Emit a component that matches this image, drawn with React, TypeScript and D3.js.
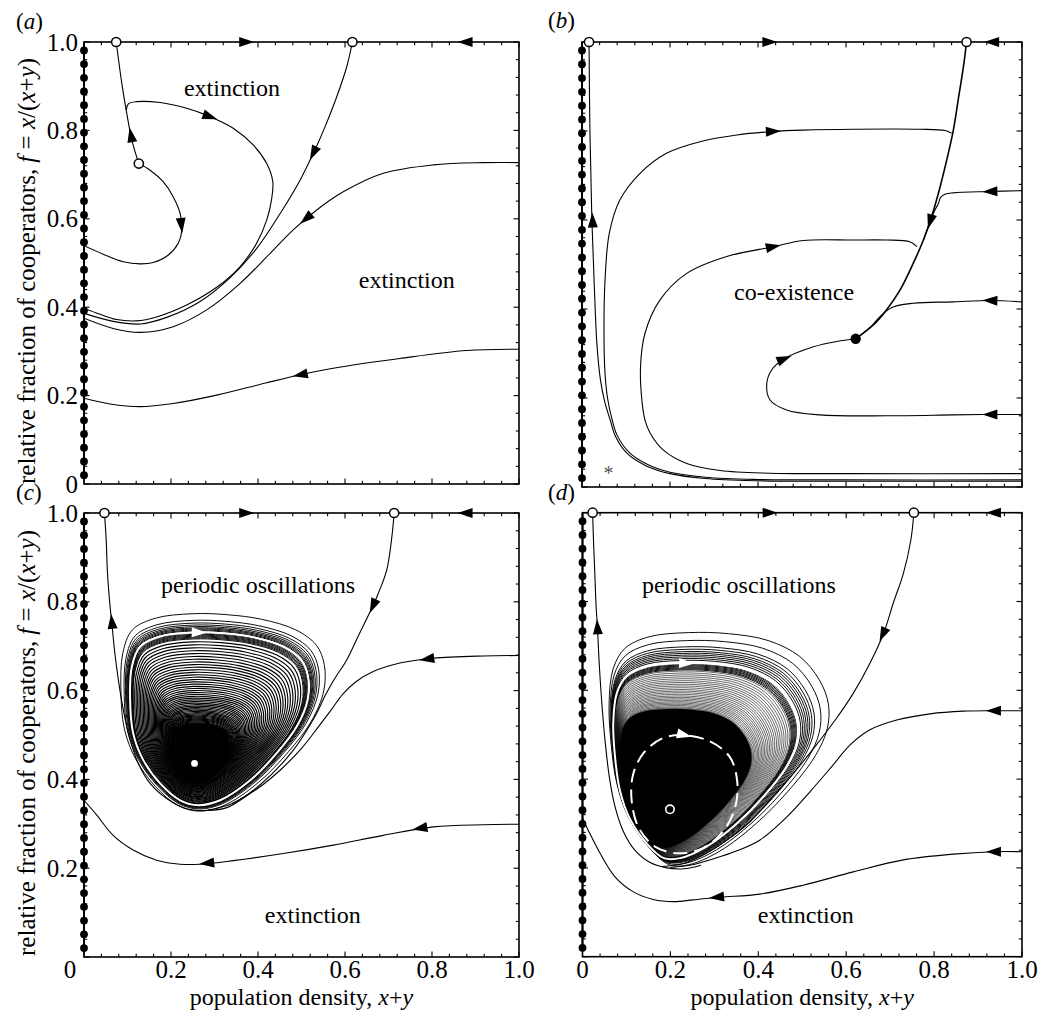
import React from "react";
import * as d3 from "d3";

type P = [number, number];

// ---------------- axes ----------------
const MAJOR_TICKS = [0, 0.2, 0.4, 0.6, 0.8, 1.0];
const MAJOR_LABELS = ["0", "0.2", "0.4", "0.6", "0.8", "1.0"];
const MINOR_TICKS = [0.04, 0.08, 0.12, 0.16, 0.24, 0.28, 0.32, 0.36, 0.44, 0.48, 0.52, 0.56, 0.64, 0.68, 0.72, 0.76, 0.84, 0.88, 0.92, 0.96];

// line of equilibria at x+y = 0
const EQUILIBRIA_F = [0.020, 0.051, 0.082, 0.113, 0.144, 0.175, 0.206, 0.237, 0.268, 0.299, 0.330, 0.361, 0.392, 0.423, 0.454, 0.485, 0.516, 0.547, 0.578, 0.609, 0.640, 0.671, 0.702, 0.733, 0.764, 0.795, 0.826, 0.857, 0.888, 0.919, 0.950, 0.981];

const TOP_EDGE: P[] = [[0, 1], [1, 1]];

// ---------------- panel (a) ----------------
const A_SADDLES: P[] = [[0.074, 1.0], [0.617, 1.0], [0.126, 0.725]];
const A_SEP_UP: P[] = [[0.074, 1.0], [0.087, 0.906], [0.097, 0.846], [0.110, 0.778], [0.126, 0.725]];
const A_LOOP: P[] = [[0.097, 0.846], [0.102, 0.860], [0.121, 0.865], [0.175, 0.863], [0.236, 0.850], [0.290, 0.831], [0.343, 0.805], [0.389, 0.767], [0.420, 0.725], [0.434, 0.684], [0.431, 0.643], [0.420, 0.597], [0.397, 0.545], [0.359, 0.492], [0.305, 0.445], [0.236, 0.405], [0.167, 0.378], [0.121, 0.369], [0.075, 0.372], [0.037, 0.384], [0.0, 0.397]];
const A_SEP_RIGHT: P[] = [[0.617, 1.0], [0.604, 0.944], [0.581, 0.876], [0.554, 0.808], [0.531, 0.756], [0.497, 0.688], [0.451, 0.612], [0.397, 0.533], [0.336, 0.467], [0.267, 0.413], [0.190, 0.377], [0.129, 0.362], [0.067, 0.368], [0.0, 0.386]];
const A_RIGHT: P[] = [[1.0, 0.727], [0.918, 0.727], [0.803, 0.722], [0.688, 0.703], [0.596, 0.661], [0.535, 0.620], [0.481, 0.575], [0.428, 0.522], [0.359, 0.454], [0.282, 0.394], [0.205, 0.356], [0.129, 0.343], [0.067, 0.352], [0.0, 0.375]];
const A_MID_DOWN: P[] = [[0.126, 0.725], [0.152, 0.710], [0.182, 0.684], [0.205, 0.650], [0.221, 0.612], [0.225, 0.575], [0.217, 0.545], [0.194, 0.518], [0.159, 0.501], [0.129, 0.498], [0.090, 0.503], [0.044, 0.520], [0.0, 0.539]];
const A_BOTTOM: P[] = [[1.0, 0.305], [0.880, 0.302], [0.726, 0.284], [0.573, 0.262], [0.497, 0.247], [0.420, 0.229], [0.305, 0.201], [0.205, 0.182], [0.129, 0.175], [0.060, 0.181], [0.0, 0.194]];

// ---------------- panel (b) ----------------
const B_SADDLES: P[] = [[0.016, 1.0], [0.874, 1.0]];
const B_NODE: P = [0.622, 0.333];
const B_SEP: P[] = [[0.874, 1.0], [0.867, 0.945], [0.855, 0.870], [0.844, 0.802], [0.829, 0.735], [0.810, 0.660], [0.791, 0.596], [0.776, 0.555], [0.753, 0.503], [0.723, 0.443], [0.692, 0.398], [0.662, 0.364], [0.622, 0.333]];
const B_LEFT: P[] = [[0.016, 1.0], [0.018, 0.8], [0.022, 0.62], [0.028, 0.45], [0.034, 0.32], [0.042, 0.24], [0.052, 0.19], [0.064, 0.151], [0.076, 0.114], [0.102, 0.076], [0.145, 0.048], [0.2, 0.03], [0.28, 0.019], [0.4, 0.014], [0.6, 0.013], [1.0, 0.013]];
const B_OUTER: P[] = [[0.84, 0.795], [0.825, 0.801], [0.768, 0.804], [0.617, 0.804], [0.503, 0.802], [0.435, 0.799], [0.352, 0.791], [0.268, 0.776], [0.192, 0.75], [0.132, 0.705], [0.086, 0.645], [0.062, 0.57], [0.052, 0.458], [0.05, 0.345], [0.052, 0.26], [0.058, 0.2], [0.068, 0.153], [0.08, 0.116], [0.106, 0.079], [0.148, 0.051], [0.2, 0.033], [0.28, 0.022], [0.4, 0.017], [0.6, 0.016], [1.0, 0.016]];
const B_MIDDLE: P[] = [[0.761, 0.540], [0.745, 0.551], [0.692, 0.555], [0.617, 0.555], [0.503, 0.554], [0.435, 0.540], [0.329, 0.518], [0.238, 0.480], [0.177, 0.420], [0.143, 0.345], [0.133, 0.270], [0.136, 0.196], [0.143, 0.151], [0.155, 0.121], [0.185, 0.083], [0.238, 0.053], [0.314, 0.037], [0.427, 0.031], [0.6, 0.030], [1.0, 0.030]];
const B_HOOK: P[] = [[1.0, 0.163], [0.927, 0.163], [0.844, 0.162], [0.692, 0.160], [0.541, 0.162], [0.465, 0.173], [0.427, 0.196], [0.420, 0.233], [0.431, 0.263], [0.458, 0.287], [0.526, 0.315], [0.579, 0.327], [0.622, 0.333]];
const B_RIGHT_LOW: P[] = [[1.0, 0.416], [0.927, 0.419], [0.844, 0.416], [0.753, 0.413], [0.708, 0.405], [0.685, 0.390], [0.670, 0.375], [0.655, 0.359], [0.622, 0.333]];
const B_RIGHT_HIGH: P[] = [[1.0, 0.666], [0.927, 0.664], [0.844, 0.661], [0.825, 0.658], [0.815, 0.651], [0.810, 0.637], [0.802, 0.622], [0.791, 0.596], [0.776, 0.555]];

// ---------------- panel (c) ----------------
const C_SADDLES: P[] = [[0.047, 1.0], [0.713, 1.0]];
const C_FOCUS: P = [0.254, 0.436];
const C_LEFT: P[] = [[0.047, 1.0], [0.051, 0.940], [0.054, 0.865], [0.060, 0.789], [0.064, 0.752], [0.070, 0.692], [0.079, 0.624], [0.089, 0.564], [0.104, 0.496], [0.125, 0.436], [0.152, 0.391], [0.190, 0.357], [0.236, 0.334], [0.282, 0.330], [0.330, 0.337], [0.390, 0.375]];
const C_RSEP: P[] = [[0.713, 1.0], [0.707, 0.940], [0.696, 0.872], [0.677, 0.820], [0.656, 0.774], [0.630, 0.722], [0.604, 0.669], [0.575, 0.625], [0.555, 0.590], [0.530, 0.540], [0.478, 0.462], [0.405, 0.388], [0.340, 0.345], [0.280, 0.330]];
const C_RIGHT: P[] = [[1.0, 0.679], [0.918, 0.678], [0.803, 0.673], [0.726, 0.662], [0.665, 0.643], [0.625, 0.620], [0.595, 0.592], [0.567, 0.555], [0.540, 0.520], [0.500, 0.470], [0.450, 0.420], [0.400, 0.380], [0.340, 0.345]];
const C_BOTTOM: P[] = [[1.0, 0.299], [0.918, 0.298], [0.803, 0.293], [0.688, 0.274], [0.573, 0.252], [0.458, 0.233], [0.343, 0.217], [0.267, 0.209], [0.221, 0.209], [0.167, 0.218], [0.113, 0.241], [0.067, 0.274], [0.029, 0.320], [0.0, 0.353]];
const C_CYCLE: P[] = [[0.251, 0.731], [0.320, 0.729], [0.389, 0.720], [0.458, 0.699], [0.499, 0.669], [0.515, 0.631], [0.514, 0.579], [0.489, 0.519], [0.443, 0.459], [0.382, 0.398], [0.313, 0.353], [0.263, 0.342], [0.221, 0.353], [0.175, 0.391], [0.136, 0.444], [0.113, 0.504], [0.106, 0.579], [0.110, 0.654], [0.129, 0.699], [0.175, 0.722]];
const C_OUTER_K = [1.143, 1.092, 1.071, 1.056, 1.044, 1.034, 1.026, 1.018, 1.011];
const C_BAND_K = [0.992, 0.985, 0.978, 0.971, 0.964, 0.957, 0.95];
const C_INNER_K = [0.928, 0.905, 0.882, 0.86, 0.838, 0.816, 0.795, 0.774, 0.754, 0.734, 0.714, 0.695, 0.676, 0.658, 0.64, 0.622, 0.605, 0.588, 0.572, 0.556, 0.541, 0.526, 0.512, 0.498, 0.485, 0.472, 0.46, 0.448, 0.437, 0.426, 0.416, 0.406, 0.396, 0.387, 0.378, 0.369, 0.361, 0.353, 0.345, 0.338, 0.331, 0.324, 0.317, 0.31, 0.304];
const C_CORE_K = 0.3;

// ---------------- panel (d) ----------------
const D_SADDLES: P[] = [[0.023, 1.0], [0.754, 1.0]];
const D_FOCUS: P = [0.199, 0.332];
const D_LEFT: P[] = [[0.023, 1.0], [0.025, 0.938], [0.028, 0.863], [0.031, 0.788], [0.034, 0.743], [0.038, 0.661], [0.044, 0.571], [0.052, 0.480], [0.061, 0.405], [0.074, 0.338], [0.093, 0.282], [0.119, 0.240], [0.154, 0.212], [0.192, 0.200], [0.230, 0.198], [0.270, 0.206]];
const D_RSEP: P[] = [[0.754, 1.0], [0.747, 0.938], [0.730, 0.863], [0.707, 0.796], [0.685, 0.728], [0.654, 0.661], [0.616, 0.593], [0.575, 0.533], [0.529, 0.473], [0.480, 0.413], [0.430, 0.357], [0.381, 0.304], [0.328, 0.262], [0.280, 0.232], [0.230, 0.210], [0.180, 0.203]];
const D_RIGHT: P[] = [[1.0, 0.554], [0.935, 0.554], [0.867, 0.553], [0.791, 0.547], [0.715, 0.533], [0.654, 0.511], [0.609, 0.477], [0.567, 0.428], [0.518, 0.372], [0.465, 0.315], [0.404, 0.263], [0.350, 0.238], [0.300, 0.221], [0.250, 0.207], [0.200, 0.201]];
const D_BOTTOM: P[] = [[1.0, 0.2365], [0.935, 0.2365], [0.844, 0.231], [0.730, 0.218], [0.616, 0.191], [0.502, 0.161], [0.404, 0.141], [0.313, 0.134], [0.252, 0.128], [0.207, 0.124], [0.161, 0.129], [0.116, 0.146], [0.074, 0.180], [0.040, 0.233], [0.013, 0.285], [0.0, 0.312]];
const D_CYCLE: P[] = [[0.222, 0.661], [0.298, 0.659], [0.374, 0.646], [0.434, 0.616], [0.472, 0.571], [0.489, 0.526], [0.487, 0.480], [0.464, 0.428], [0.411, 0.360], [0.351, 0.300], [0.282, 0.248], [0.222, 0.222], [0.185, 0.222], [0.146, 0.255], [0.108, 0.310], [0.085, 0.375], [0.074, 0.450], [0.070, 0.526], [0.078, 0.593], [0.100, 0.631], [0.146, 0.653]];
const D_DASHED: P[] = [[0.229, 0.499], [0.290, 0.485], [0.335, 0.450], [0.352, 0.395], [0.347, 0.335], [0.318, 0.280], [0.270, 0.243], [0.215, 0.233], [0.165, 0.248], [0.128, 0.290], [0.112, 0.350], [0.115, 0.410], [0.140, 0.460], [0.182, 0.492]];
const D_CENTER: P = [0.12, 0.30];
const D_OUTER_K = [1.191, 1.141, 1.102, 1.086, 1.072, 1.061, 1.05, 1.039, 1.028, 1.017];
const D_BAND_K = [0.994, 0.988, 0.982, 0.976, 0.97, 0.964, 0.958];
const D_FINE_K = [0.95, 0.938, 0.926, 0.914, 0.902, 0.89, 0.879, 0.868, 0.857, 0.846, 0.835, 0.825, 0.815, 0.805, 0.795, 0.786, 0.777, 0.768, 0.759, 0.751, 0.743, 0.735, 0.727, 0.72];
const D_CORE_K = 0.715;

// ---------------- rendering ----------------
const SERIF = "'Liberation Serif', 'DejaVu Serif', serif";

interface Box { left: number; top: number; width: number; height: number }
interface Curve { pts: P[]; w?: number }
interface Arrow { on: P[]; at: P; dir: number; closed?: boolean; white?: boolean }
interface Label { text: string; at: P }
interface Loops { cycle: P[]; center: P; outer: number[]; band: number[]; fine: number[]; core: number; lineW: number; fineW: number }
interface PanelSpec {
  id: string; box: Box; tag: string; tagPos: [number, number];
  curves: Curve[]; arrows: Arrow[]; saddles: P[]; node?: P; labels: Label[];
  loops?: Loops; dashed?: P[]; whiteDot?: P; openFocus?: P;
  yLabels: boolean; xLabels: boolean; star?: P;
}

const scaleLoop = (pts: P[], c: P, k: number): P[] =>
  pts.map(([x, f]) => [c[0] + k * (x - c[0]), c[1] + k * (f - c[1])] as P);

function arrowD(px: [number, number][], at: [number, number], dir: number, closed: boolean, L = 15, W = 10) {
  const n = px.length;
  const segs = closed ? n : n - 1;
  let best = 0, bd = Infinity;
  for (let i = 0; i < segs; i++) {
    const a = px[i], b = px[(i + 1) % n];
    const vx = b[0] - a[0], vy = b[1] - a[1];
    const t = Math.max(0, Math.min(1, ((at[0] - a[0]) * vx + (at[1] - a[1]) * vy) / (vx * vx + vy * vy || 1)));
    const qx = a[0] + t * vx, qy = a[1] + t * vy;
    const d = (qx - at[0]) ** 2 + (qy - at[1]) ** 2;
    if (d < bd) { bd = d; best = i; }
  }
  const a = px[best], b = px[(best + 1) % n];
  let ux = b[0] - a[0], uy = b[1] - a[1];
  const len = Math.hypot(ux, uy) || 1;
  ux = (ux / len) * dir; uy = (uy / len) * dir;
  const nx = -uy, ny = ux;
  const tx = at[0] + ux * L * 0.5, ty = at[1] + uy * L * 0.5;
  const bx = at[0] - ux * L * 0.5, by = at[1] - uy * L * 0.5;
  return `M${tx},${ty}L${bx + nx * W / 2},${by + ny * W / 2}L${bx - nx * W / 2},${by - ny * W / 2}Z`;
}

function Panel({ s }: { s: PanelSpec }) {
  const { box } = s;
  const sx = d3.scaleLinear().domain([0, 1]).range([box.left, box.left + box.width]);
  const sy = d3.scaleLinear().domain([0, 1]).range([box.top + box.height, box.top]);
  const toPx = (p: P): [number, number] => [sx(p[0]), sy(p[1])];
  const open = d3.line<P>().x(d => sx(d[0])).y(d => sy(d[1])).curve(d3.curveCatmullRom.alpha(0.5));
  const closedL = d3.line<P>().x(d => sx(d[0])).y(d => sy(d[1])).curve(d3.curveCatmullRomClosed.alpha(0.5));
  const clipId = `clip-${s.id}`;
  const x0 = box.left, x1 = box.left + box.width, y0 = box.top, y1 = box.top + box.height;
  const MAJ = 5.5, MIN = 3.2;

  const ticks: JSX.Element[] = [];
  const allT = [...MAJOR_TICKS.map(v => ({ v, L: MAJ })), ...MINOR_TICKS.map(v => ({ v, L: MIN }))];
  allT.forEach(({ v, L }, i) => {
    const X = sx(v), Y = sy(v);
    ticks.push(<line key={`b${i}`} x1={X} x2={X} y1={y1} y2={y1 - L} />);
    ticks.push(<line key={`t${i}`} x1={X} x2={X} y1={y0} y2={y0 + L} />);
    ticks.push(<line key={`l${i}`} x1={x0} x2={x0 + L} y1={Y} y2={Y} />);
    ticks.push(<line key={`r${i}`} x1={x1} x2={x1 - L} y1={Y} y2={Y} />);
  });

  const L = s.loops;
  return (
    <g>
      <defs>
        <clipPath id={clipId}><rect x={x0} y={y0} width={box.width} height={box.height} /></clipPath>
      </defs>
      <g clipPath={`url(#${clipId})`} fill="none" stroke="#000">
        {s.curves.map((c, i) => <path key={i} d={open(c.pts) || ""} strokeWidth={c.w ?? 1.1} />)}
        {L && L.outer.map((k, i) => <path key={`o${i}`} d={closedL(scaleLoop(L.cycle, L.center, k)) || ""} strokeWidth={L.lineW} />)}
        {L && L.band.map((k, i) => <path key={`n${i}`} d={closedL(scaleLoop(L.cycle, L.center, k)) || ""} strokeWidth={L.lineW} />)}
        {L && L.fine.map((k, i) => <path key={`f${i}`} d={closedL(scaleLoop(L.cycle, L.center, k)) || ""} strokeWidth={L.fineW} />)}
        {L && <path d={closedL(scaleLoop(L.cycle, L.center, L.core)) || ""} fill="#000" stroke="#000" strokeWidth={L.fineW} />}
        {L && <path d={closedL(L.cycle) || ""} stroke="#fff" strokeWidth={2} />}
        {s.dashed && <path d={closedL(s.dashed) || ""} stroke="#fff" strokeWidth={2} strokeDasharray="14 7" />}
      </g>
      <rect x={x0} y={y0} width={box.width} height={box.height} fill="none" stroke="#000" strokeWidth={1.6} />
      <g stroke="#000" strokeWidth={1.1}>{ticks}</g>
      <line x1={x0} x2={x0} y1={sy(EQUILIBRIA_F[0])} y2={y0} stroke="#000" strokeWidth={2} />
      {EQUILIBRIA_F.map((f, i) => <circle key={i} cx={sx(0)} cy={sy(f)} r={3.9} fill="#000" />)}
      {s.arrows.map((a, i) => (
        <path key={i} d={arrowD(a.on.map(toPx), toPx(a.at), a.dir, !!a.closed)} fill={a.white ? "#fff" : "#000"} stroke="none" />
      ))}
      {s.whiteDot && <circle cx={sx(s.whiteDot[0])} cy={sy(s.whiteDot[1])} r={3.4} fill="#fff" />}
      {s.openFocus && <circle cx={sx(s.openFocus[0])} cy={sy(s.openFocus[1])} r={4.2} fill="#000" stroke="#fff" strokeWidth={1.6} />}
      {s.node && <circle cx={sx(s.node[0])} cy={sy(s.node[1])} r={5.2} fill="#000" />}
      {s.saddles.map((p, i) => <circle key={i} cx={sx(p[0])} cy={sy(p[1])} r={4.6} fill="#fff" stroke="#000" strokeWidth={1.5} />)}
      {s.labels.map((l, i) => (
        <text key={i} x={sx(l.at[0])} y={sy(l.at[1])} textAnchor="middle" fontFamily={SERIF} fontSize={24}>{l.text}</text>
      ))}
      {s.star && <text x={sx(s.star[0])} y={sy(s.star[1])} textAnchor="middle" fontFamily={SERIF} fontSize={20} fill="#555">*</text>}
      {s.yLabels && MAJOR_TICKS.map((v, i) => (i === 0 && s.xLabels) ? null : (
        <text key={`yl${i}`} x={x0 - 6} y={sy(v) + 8.5} textAnchor="end" fontFamily={SERIF} fontSize={25}>{MAJOR_LABELS[i]}</text>
      ))}
      {s.xLabels && MAJOR_TICKS.map((v, i) => (
        <text key={`xl${i}`} x={(i === 0 && s.yLabels) ? x0 - 14 : sx(v)} y={y1 + 21} textAnchor="middle" fontFamily={SERIF} fontSize={25}>{MAJOR_LABELS[i]}</text>
      ))}
      {s.xLabels && (
        <text x={(x0 + x1) / 2} y={y1 + 48} textAnchor="middle" fontFamily={SERIF} fontSize={24}>
          population density, <tspan fontStyle="italic">x</tspan>+<tspan fontStyle="italic">y</tspan>
        </text>
      )}
      {s.yLabels && (
        <text transform={`translate(35,${(y0 + y1) / 2 + 8}) rotate(-90)`} textAnchor="middle" fontFamily={SERIF} fontSize={25}>
          relative fraction of cooperators, <tspan fontStyle="italic">f</tspan> = <tspan fontStyle="italic">x</tspan>/(<tspan fontStyle="italic">x</tspan>+<tspan fontStyle="italic">y</tspan>)
        </text>
      )}
      <text x={s.tagPos[0]} y={s.tagPos[1]} fontFamily={SERIF} fontSize={23}>(<tspan fontStyle="italic">{s.tag}</tspan>)</text>
    </g>
  );
}

const PANELS: PanelSpec[] = [
  {
    id: "a", box: { left: 84, top: 42, width: 435, height: 442 }, tag: "a", tagPos: [16, 29],
    curves: [{ pts: A_SEP_UP }, { pts: A_LOOP }, { pts: A_SEP_RIGHT }, { pts: A_RIGHT }, { pts: A_MID_DOWN }, { pts: A_BOTTOM }],
    arrows: [
      { on: TOP_EDGE, at: [0.374, 1], dir: 1 }, { on: TOP_EDGE, at: [0.876, 1], dir: -1 },
      { on: A_SEP_UP, at: [0.108, 0.79], dir: -1 }, { on: A_LOOP, at: [0.29, 0.831], dir: 1 },
      { on: A_SEP_RIGHT, at: [0.527, 0.748], dir: 1 }, { on: A_RIGHT, at: [0.51, 0.60], dir: 1 },
      { on: A_MID_DOWN, at: [0.224, 0.585], dir: 1 }, { on: A_BOTTOM, at: [0.497, 0.247], dir: 1 },
    ],
    saddles: A_SADDLES,
    labels: [{ text: "extinction", at: [0.34, 0.877] }, { text: "extinction", at: [0.742, 0.443] }],
    yLabels: true, xLabels: false,
  },
  {
    id: "b", box: { left: 582, top: 42, width: 440, height: 445 }, tag: "b", tagPos: [548, 28],
    curves: [{ pts: B_SEP, w: 1.6 }, { pts: B_LEFT }, { pts: B_OUTER }, { pts: B_MIDDLE }, { pts: B_HOOK }, { pts: B_RIGHT_LOW }, { pts: B_RIGHT_HIGH }],
    arrows: [
      { on: TOP_EDGE, at: [0.427, 1], dir: 1 }, { on: TOP_EDGE, at: [0.931, 1], dir: -1 },
      { on: B_SEP, at: [0.791, 0.596], dir: 1 }, { on: B_LEFT, at: [0.024, 0.6], dir: -1 },
      { on: B_OUTER, at: [0.435, 0.799], dir: -1 }, { on: B_MIDDLE, at: [0.435, 0.540], dir: -1 },
      { on: B_HOOK, at: [0.927, 0.163], dir: 1 }, { on: B_HOOK, at: [0.46, 0.288], dir: 1 },
      { on: B_RIGHT_LOW, at: [0.927, 0.419], dir: 1 }, { on: B_RIGHT_HIGH, at: [0.927, 0.664], dir: 1 },
    ],
    saddles: B_SADDLES, node: B_NODE,
    labels: [{ text: "co-existence", at: [0.482, 0.42] }],
    star: [0.06, 0.016],
    yLabels: false, xLabels: false,
  },
  {
    id: "c", box: { left: 84, top: 513, width: 435, height: 444 }, tag: "c", tagPos: [16, 500],
    curves: [{ pts: C_LEFT }, { pts: C_RSEP }, { pts: C_RIGHT }, { pts: C_BOTTOM }],
    arrows: [
      { on: TOP_EDGE, at: [0.374, 1], dir: 1 }, { on: TOP_EDGE, at: [0.876, 1], dir: -1 },
      { on: C_LEFT, at: [0.064, 0.756], dir: -1 }, { on: C_RSEP, at: [0.664, 0.79], dir: 1 },
      { on: C_RIGHT, at: [0.788, 0.671], dir: 1 }, { on: C_BOTTOM, at: [0.772, 0.29], dir: 1 },
      { on: C_BOTTOM, at: [0.282, 0.211], dir: 1 },
      { on: C_CYCLE, at: [0.265, 0.731], dir: 1, closed: true, white: true },
    ],
    saddles: C_SADDLES,
    loops: { cycle: C_CYCLE, center: C_FOCUS, outer: C_OUTER_K, band: C_BAND_K, fine: C_INNER_K, core: C_CORE_K, lineW: 0.95, fineW: 1.15 },
    whiteDot: C_FOCUS,
    labels: [{ text: "periodic oscillations", at: [0.40, 0.82] }, { text: "extinction", at: [0.526, 0.077] }],
    yLabels: true, xLabels: true,
  },
  {
    id: "d", box: { left: 582.5, top: 512.7, width: 439.5, height: 444 }, tag: "d", tagPos: [548, 500],
    curves: [{ pts: D_LEFT }, { pts: D_RSEP }, { pts: D_RIGHT }, { pts: D_BOTTOM }],
    arrows: [
      { on: TOP_EDGE, at: [0.427, 1], dir: 1 }, { on: TOP_EDGE, at: [0.935, 1], dir: -1 },
      { on: D_LEFT, at: [0.034, 0.743], dir: -1 }, { on: D_RSEP, at: [0.683, 0.725], dir: 1 },
      { on: D_RIGHT, at: [0.935, 0.554], dir: 1 }, { on: D_BOTTOM, at: [0.935, 0.2365], dir: 1 },
      { on: D_BOTTOM, at: [0.305, 0.134], dir: 1 },
    ],
    saddles: D_SADDLES,
    loops: { cycle: D_CYCLE, center: D_CENTER, outer: D_OUTER_K, band: D_BAND_K, fine: D_FINE_K, core: D_CORE_K, lineW: 0.95, fineW: 0.6 },
    dashed: D_DASHED, openFocus: D_FOCUS,
    labels: [{ text: "periodic oscillations", at: [0.356, 0.82] }, { text: "extinction", at: [0.508, 0.077] }],
    yLabels: false, xLabels: true,
  },
];

const WHITE_ARROWS: { panel: number; on: P[]; at: P }[] = [
  { panel: 3, on: D_CYCLE, at: [0.237, 0.661] },
  { panel: 3, on: D_DASHED, at: [0.232, 0.499] },
];

function WhiteArrows() {
  return (
    <g>
      {WHITE_ARROWS.map((w, i) => {
        const b = PANELS[w.panel].box;
        const sx = d3.scaleLinear().domain([0, 1]).range([b.left, b.left + b.width]);
        const sy = d3.scaleLinear().domain([0, 1]).range([b.top + b.height, b.top]);
        const px = w.on.map(p => [sx(p[0]), sy(p[1])] as [number, number]);
        return <path key={i} d={arrowD(px, [sx(w.at[0]), sy(w.at[1])], 1, true)} fill="#fff" />;
      })}
    </g>
  );
}

export default function App() {
  return (
    <svg width={1044} height={1011} viewBox="0 0 1044 1011" style={{ position: "absolute", left: 0, top: 0, background: "#fff" }}>
      <rect x={0} y={0} width={1044} height={1011} fill="#fff" />
      {PANELS.map(p => <Panel key={p.id} s={p} />)}
      <WhiteArrows />
    </svg>
  );
}
